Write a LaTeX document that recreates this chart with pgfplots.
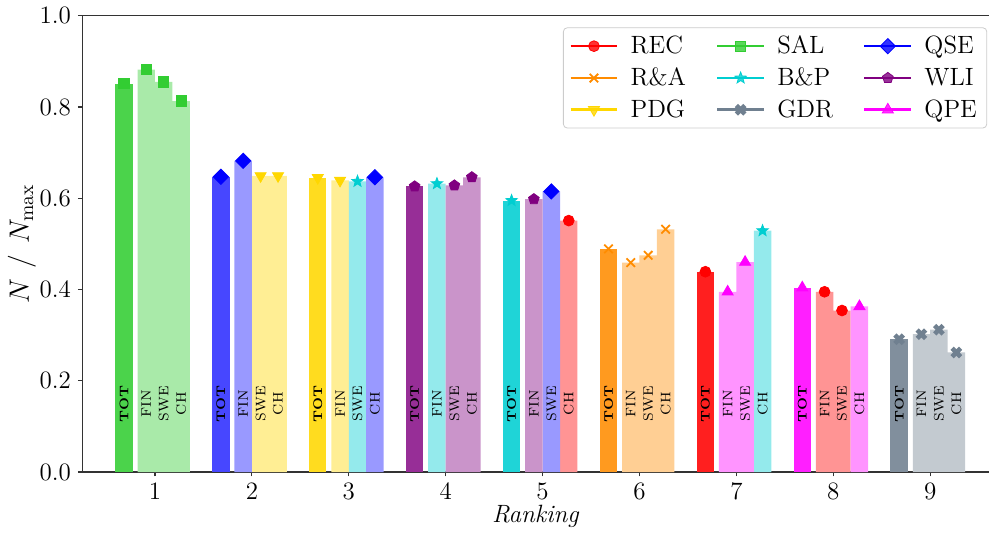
\RequirePackage{fix-cm}
\documentclass[border=0pt]{standalone}
\usepackage{fontspec}
\usepackage{pgfplots}
\pgfplotsset{compat=1.18}

\definecolor{cREC}{HTML}{FF0000}
\definecolor{cRA}{HTML}{FF8C00}
\definecolor{cPDG}{HTML}{FFD700}
\definecolor{cSAL}{HTML}{32CD32}
\definecolor{cBP}{HTML}{00CED1}
\definecolor{cGDR}{HTML}{708090}
\definecolor{cQSE}{HTML}{0000FF}
\definecolor{cWLI}{HTML}{800080}
\definecolor{cQPE}{HTML}{FF00FF}

\pgfdeclareplotmark{fstar}{%
  \pgfpathmoveto{\pgfpointpolar{90}{\pgfplotmarksize}}%
  \pgfpathlineto{\pgfpointpolar{126}{0.42\pgfplotmarksize}}%
  \pgfpathlineto{\pgfpointpolar{162}{\pgfplotmarksize}}%
  \pgfpathlineto{\pgfpointpolar{198}{0.42\pgfplotmarksize}}%
  \pgfpathlineto{\pgfpointpolar{234}{\pgfplotmarksize}}%
  \pgfpathlineto{\pgfpointpolar{270}{0.42\pgfplotmarksize}}%
  \pgfpathlineto{\pgfpointpolar{306}{\pgfplotmarksize}}%
  \pgfpathlineto{\pgfpointpolar{342}{0.42\pgfplotmarksize}}%
  \pgfpathlineto{\pgfpointpolar{18}{\pgfplotmarksize}}%
  \pgfpathlineto{\pgfpointpolar{54}{0.42\pgfplotmarksize}}%
  \pgfpathclose\pgfusepathqfillstroke}

\tikzset{
 mREC/.style={color=cREC, mark=*, mark size=2.7pt, mark options={solid,line width=0.4pt}},
 mRA/.style={color=cRA, mark=x, mark size=3pt, mark options={solid,line width=0.9pt}},
 mPDG/.style={color=cPDG, mark=triangle*, mark size=3.2pt, mark options={solid,line width=0.4pt,rotate=180}},
 mSAL/.style={color=cSAL, mark=square*, mark size=2.6pt, mark options={solid,line width=0.4pt}},
 mBP/.style={color=cBP, mark=fstar, mark size=3pt, mark options={solid,line width=0.4pt}},
 mGDR/.style={color=cGDR, mark=x, mark size=3pt, mark options={solid,line width=2.3pt}},
 mQSE/.style={color=cQSE, mark=square*, mark size=2.7pt, mark options={solid,line width=0.4pt,rotate=45}},
 mWLI/.style={color=cWLI, mark=pentagon*, mark size=2.8pt, mark options={solid,line width=0.4pt}},
 mQPE/.style={color=cQPE, mark=triangle*, mark size=3.2pt, mark options={solid,line width=0.4pt}},
 lab/.style={rotate=90, inner sep=0pt, font=\fontsize{6.9}{7}\selectfont},
}
\pgfplotsset{bar/.style={ybar, bar width=0.18, bar shift=0pt, draw=none, forget plot, mark=none}}
\newcommand{\grp}[4]{%
  \node[lab, font=\fontsize{6.3}{7}\selectfont\bfseries] at (axis cs:#1,0.15) {TOT};
  \node[lab] at (axis cs:#2,0.15) {FIN};
  \node[lab] at (axis cs:#3,0.15) {SWE};
  \node[lab] at (axis cs:#4,0.15) {CH};}

\begin{document}
\begin{tikzpicture}[font=\fontsize{12.5}{15}\selectfont]
\begin{axis}[
  scale only axis, width=453.4pt, height=228.2pt,
  xmin=0.25, xmax=9.607, ymin=0, ymax=1,
  axis x line=box, axis y line=left,
  x axis line style={-}, y axis line style={-},
  axis line style={black!80, line width=0.6pt},
  xtick={1,...,9}, ytick={0,0.2,0.4,0.6,0.8,1.0},
  xtick pos=left, ytick pos=left,
  tick align=outside, major tick length=2.2pt,
  tick style={black!80, line width=0.6pt},
  yticklabel style={/pgf/number format/.cd, fixed, fixed zerofill, precision=1},
  xlabel={\textit{Ranking}},
  ylabel={\fontsize{14}{16}\selectfont$N\mkern7mu/\mkern7mu N_{\mathrm{max}}$},
  xlabel style={yshift=4pt},
  ylabel style={yshift=-5pt},
  legend columns=3, legend cell align=left,
  legend image code/.code={\draw[mark repeat=2, mark phase=2, line width=1.3pt, #1] plot coordinates {(0cm,0cm) (0.41cm,0cm) (0.82cm,0cm)};},
  legend style={at={(axis description cs:0.998,0.9745)}, anchor=north east,
    draw=black!20, rounded corners=2pt, fill=white, fill opacity=0.8, text opacity=1,
    inner xsep=3pt, inner ysep=2pt, row sep=1.5pt,
    /tikz/every odd column/.append style={column sep=4pt},
    /tikz/every even column/.append style={column sep=13pt}},
]
% ---- bars: TOT (dark) and FIN/SWE/CH (light) per method ----
\addplot[bar, fill=cREC!88!white] coordinates {(6.68,0.439)};
\addplot[bar, fill=cREC!42!white] coordinates {(5.27,0.551) (7.91,0.395) (8.09,0.354)};
\addplot[bar, fill=cRA!88!white] coordinates {(5.68,0.489)};
\addplot[bar, fill=cRA!42!white] coordinates {(5.91,0.459) (6.09,0.475) (6.27,0.532)};
\addplot[bar, fill=cPDG!88!white] coordinates {(2.68,0.645)};
\addplot[bar, fill=cPDG!42!white] coordinates {(2.09,0.649) (2.27,0.649) (2.91,0.639)};
\addplot[bar, fill=cSAL!88!white] coordinates {(0.68,0.851)};
\addplot[bar, fill=cSAL!42!white] coordinates {(0.91,0.882) (1.09,0.855) (1.27,0.813)};
\addplot[bar, fill=cBP!88!white] coordinates {(4.68,0.595)};
\addplot[bar, fill=cBP!42!white] coordinates {(3.09,0.637) (3.91,0.632) (7.27,0.529)};
\addplot[bar, fill=cGDR!88!white] coordinates {(8.68,0.291)};
\addplot[bar, fill=cGDR!42!white] coordinates {(8.91,0.302) (9.09,0.312) (9.27,0.262)};
\addplot[bar, fill=cQSE!72!white] coordinates {(1.68,0.647)};
\addplot[bar, fill=cQSE!40!white] coordinates {(1.91,0.682) (3.27,0.646) (5.09,0.615)};
\addplot[bar, fill=cWLI!82!white] coordinates {(3.68,0.626)};
\addplot[bar, fill=cWLI!42!white] coordinates {(4.09,0.628) (4.27,0.646) (4.91,0.598)};
\addplot[bar, fill=cQPE!88!white] coordinates {(7.68,0.404)};
\addplot[bar, fill=cQPE!42!white] coordinates {(6.91,0.395) (7.09,0.460) (8.27,0.363)};
% ---- markers ----
\addplot[mREC, only marks, forget plot] coordinates {(6.68,0.439) (5.27,0.551) (7.91,0.395) (8.09,0.354)};
\addplot[mRA, only marks, forget plot] coordinates {(5.68,0.489) (5.91,0.459) (6.09,0.475) (6.27,0.532)};
\addplot[mPDG, only marks, forget plot] coordinates {(2.68,0.645) (2.09,0.649) (2.27,0.649) (2.91,0.639)};
\addplot[mSAL, only marks, forget plot] coordinates {(0.68,0.851) (0.91,0.882) (1.09,0.855) (1.27,0.813)};
\addplot[mBP, only marks, forget plot] coordinates {(4.68,0.595) (3.09,0.637) (3.91,0.632) (7.27,0.529)};
\addplot[mGDR, only marks, forget plot] coordinates {(8.68,0.291) (8.91,0.302) (9.09,0.312) (9.27,0.262)};
\addplot[mQSE, only marks, forget plot] coordinates {(1.68,0.647) (1.91,0.682) (3.27,0.646) (5.09,0.615)};
\addplot[mWLI, only marks, forget plot] coordinates {(3.68,0.626) (4.09,0.628) (4.27,0.646) (4.91,0.598)};
\addplot[mQPE, only marks, forget plot] coordinates {(7.68,0.404) (6.91,0.395) (7.09,0.460) (8.27,0.363)};
% ---- bar labels ----
\grp{0.68}{0.91}{1.09}{1.27}
\grp{1.68}{1.91}{2.09}{2.27}
\grp{2.68}{2.91}{3.09}{3.27}
\grp{3.68}{3.91}{4.09}{4.27}
\grp{4.68}{4.91}{5.09}{5.27}
\grp{5.68}{5.91}{6.09}{6.27}
\grp{6.68}{6.91}{7.09}{7.27}
\grp{7.68}{7.91}{8.09}{8.27}
\grp{8.68}{8.91}{9.09}{9.27}
% ---- legend (column-wise order of the original) ----
\addlegendimage{mREC}\addlegendentry{REC}
\addlegendimage{mSAL}\addlegendentry{SAL}
\addlegendimage{mQSE}\addlegendentry{QSE}
\addlegendimage{mRA}\addlegendentry{R\&A}
\addlegendimage{mBP}\addlegendentry{B\&P}
\addlegendimage{mWLI}\addlegendentry{WLI}
\addlegendimage{mPDG}\addlegendentry{PDG}
\addlegendimage{mGDR}\addlegendentry{GDR}
\addlegendimage{mQPE}\addlegendentry{QPE}
\end{axis}
\pgfresetboundingbox
\path[use as bounding box] ([xshift=-41.15pt,yshift=-30pt]current axis.south west) rectangle ([yshift=7.85pt]current axis.north east);
\end{tikzpicture}
\end{document}
